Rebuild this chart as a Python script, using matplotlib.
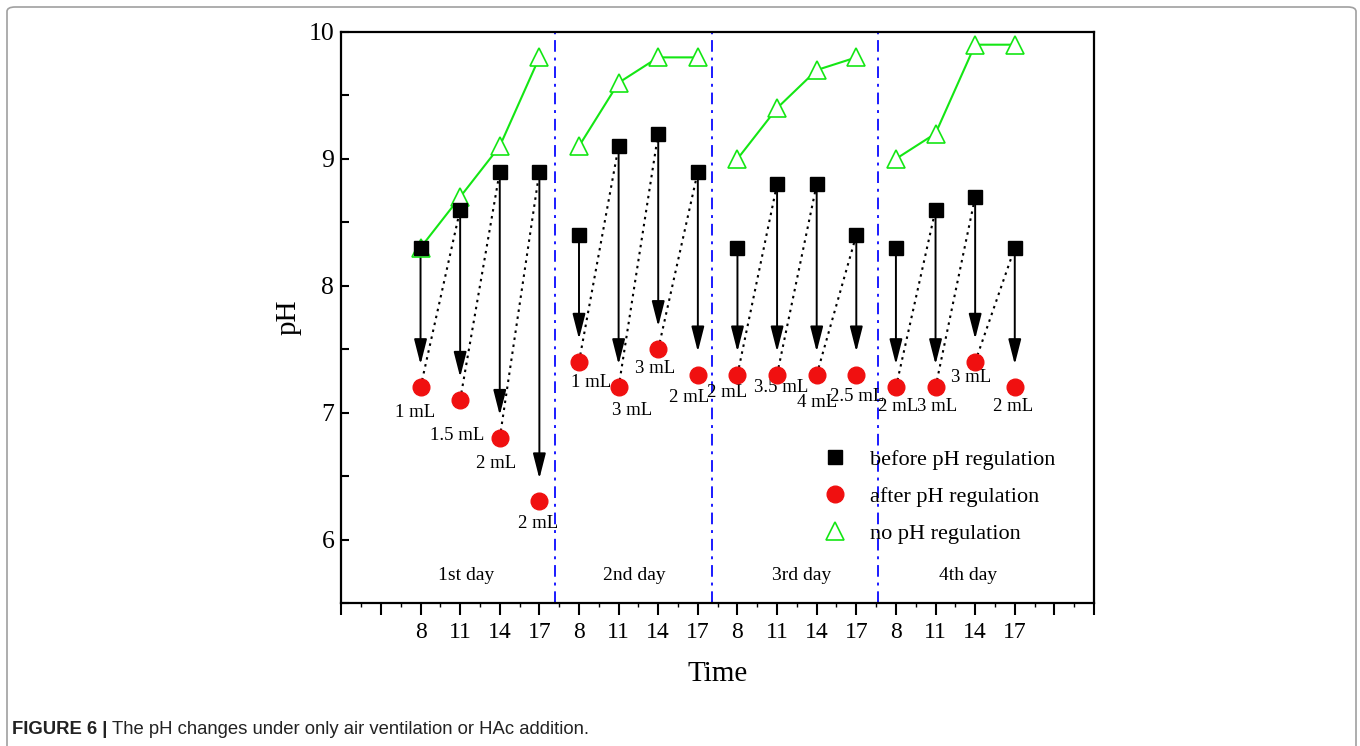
import numpy as np
import matplotlib.pyplot as plt
from matplotlib.lines import Line2D
from matplotlib.patches import FancyBboxPatch

# time of measurement within a day, and the days
hours = [8, 11, 14, 17]
days = ["1st day", "2nd day", "3rd day", "4th day"]

# pH values, one row per day
before = [[8.3, 8.6, 8.9, 8.9],
          [8.4, 9.1, 9.2, 8.9],
          [8.3, 8.8, 8.8, 8.4],
          [8.3, 8.6, 8.7, 8.3]]
after = [[7.2, 7.1, 6.8, 6.3],
         [7.4, 7.2, 7.5, 7.3],
         [7.3, 7.3, 7.3, 7.3],
         [7.2, 7.2, 7.4, 7.2]]
no_reg = [[8.3, 8.7, 9.1, 9.8],
          [9.1, 9.6, 9.8, 9.8],
          [9.0, 9.4, 9.7, 9.8],
          [9.0, 9.2, 9.9, 9.9]]
# HAc added at each point
dose = [["1 mL", "1.5 mL", "2 mL", "2 mL"],
        ["1 mL", "3 mL", "3 mL", "2 mL"],
        ["2 mL", "3.5 mL", "4 mL", "2.5 mL"],
        ["2 mL", "3 mL", "3 mL", "2 mL"]]

day_breaks = [5.4, 9.35, 13.55]

# where each dose label sits relative to its red dot (dx, dy)
lab_off = [[(-0.13, -0.20), (-0.07, -0.28), (-0.09, -0.20), (-0.04, -0.17)],
           [(0.31, -0.16), (0.34, -0.18), (-0.08, -0.15), (-0.23, -0.18)],
           [(-0.25, -0.14), (0.10, -0.10), (0.01, -0.22), (0.03, -0.17)],
           [(0.06, -0.15), (0.04, -0.15), (-0.11, -0.12), (-0.05, -0.15)]]
day_lab_dx = [-0.35, -0.11, 0.13, 0.32]

serif = "Liberation Serif"
green = "#14e614"
red = "#f01010"

fig = plt.figure(figsize=(13.6, 7.46), dpi=100)
ax = fig.add_axes([341.3 / 1360, 1 - 603 / 746, (1094 - 341.3) / 1360, (603 - 32) / 746])

for d in range(len(days)):
    x = [d * 4 + i + 2 for i in range(len(hours))]
    ax.plot(x, no_reg[d], color=green, lw=1.5, marker="^", ms=12.5, mfc="white",
            mec=green, mew=1.2, zorder=3)
    for i in range(len(hours)):
        ax.annotate("", xy=(x[i], after[d][i] + 0.18), xytext=(x[i], before[d][i]),
                    arrowprops=dict(arrowstyle="-|>,head_length=1.1,head_width=0.28",
                                    color="k", lw=1.4, shrinkA=0, shrinkB=0,
                                    mutation_scale=14), zorder=2)
        if i < len(hours) - 1:
            ax.plot([x[i], x[i + 1]], [after[d][i], before[d][i + 1]], color="k",
                    ls=(0, (1.2, 2.2)), lw=1.5, zorder=2)
        ax.text(x[i] + lab_off[d][i][0], after[d][i] + lab_off[d][i][1], dose[d][i],
                ha="center", va="center", fontsize=13.5, family=serif)
    ax.plot(x, before[d], ls="none", marker="s", ms=10, color="k", zorder=4)
    ax.plot(x, after[d], ls="none", marker="o", ms=12, color=red, zorder=4)
    ax.text(np.mean(x) + day_lab_dx[d], 5.72, days[d], ha="center", va="center",
            fontsize=14, family=serif)

for b in day_breaks:
    ax.axvline(b, color="#1a1aff", ls=(0, (6, 3, 1.5, 3)), lw=1.4, zorder=1)

ax.set_xlim(0, 19)
ax.set_ylim(5.5, 10)

xt = list(range(0, 20))
xl = [""] * len(xt)
for d in range(len(days)):
    for i, h in enumerate(hours):
        xl[d * 4 + i + 2] = str(h)
ax.set_xticks(xt)
ax.set_xticklabels(xl, family=serif, fontsize=17)
ax.set_xticks(np.arange(0.5, 19, 1), minor=True)
ax.set_yticks([6, 7, 8, 9, 10])
ax.set_yticklabels(["6", "7", "8", "9", "10"], family=serif, fontsize=18.5)
ax.set_yticks(np.arange(5.5, 10, 0.5), minor=True)

ax.tick_params(axis="x", which="major", direction="out", length=8.5, width=1.5, pad=5)
ax.tick_params(axis="x", which="minor", direction="out", length=3, width=1)
ax.tick_params(axis="y", which="both", direction="in", length=6, width=1.5, pad=5)
for s in ax.spines.values():
    s.set_linewidth(1.6)

ax.set_xlabel("Time", family=serif, fontsize=21, labelpad=13)
ax.set_ylabel("pH", family=serif, fontsize=21, labelpad=5)

handles = [Line2D([], [], ls="none", marker="s", ms=10, color="k"),
           Line2D([], [], ls="none", marker="o", ms=12, color=red),
           Line2D([], [], ls="none", marker="^", ms=12.5, mfc="white", mec=green, mew=1.2)]
ax.legend(handles, ["before pH regulation", "after pH regulation", "no pH regulation"],
          loc="upper left", bbox_to_anchor=(0.6, 0.304), frameon=False,
          prop=dict(family=serif, size=16), handletextpad=0.55, labelspacing=0.74)

# grey frame and caption
frame = FancyBboxPatch((7 / 1360, -0.05), 1349 / 1360, 1.05 - 7 / 746,
                       boxstyle="round,pad=0,rounding_size=0.006", transform=fig.transFigure,
                       fill=False, edgecolor="#a0a0a0", lw=1.2)
fig.patches.append(frame)

t1 = fig.text(12 / 1360, 1 - 729 / 746, "FIGURE 6 |", fontsize=13.3, weight="bold",
              family="Liberation Sans", va="center", color="#222222")
fig.canvas.draw()
bb = t1.get_window_extent()
fig.text(bb.x1 / 1360 + 5 / 1360, 1 - 729 / 746,
         "The pH changes under only air ventilation or HAc addition.",
         fontsize=13.3, family="Liberation Sans", va="center", color="#222222")

fig.savefig("out.png", dpi=100)
